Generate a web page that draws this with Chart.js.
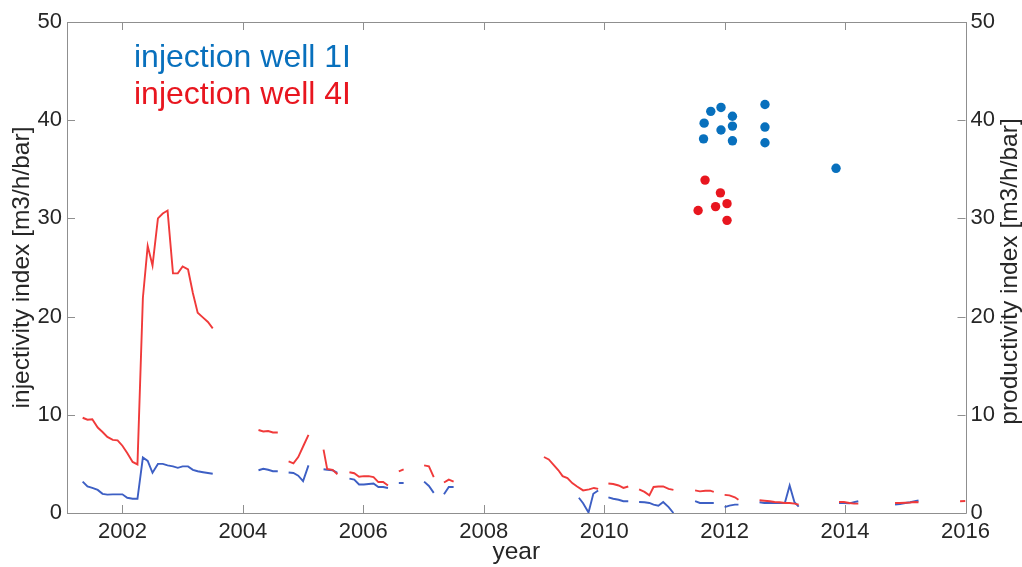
<!DOCTYPE html>
<html>
<head>
<meta charset="utf-8">
<title>Injectivity and productivity index</title>
<script src="https://cdn.jsdelivr.net/npm/chart.js@4/dist/chart.umd.min.js"></script>
<style>
  html, body { margin: 0; padding: 0; background: #ffffff; }
  #wrap { width: 1022px; height: 567px; position: relative; }
</style>
</head>
<body>
<div id="wrap"><canvas id="chart" width="1022" height="567"></canvas></div>
<script>
// ---- axis ticks ----
const xTickValues = [2002, 2004, 2006, 2008, 2010, 2012, 2014, 2016];
const yTickValues = [0, 10, 20, 30, 40, 50];

// ---- injection well 4I, injectivity index time series (null = no record) ----
const well4Years = [
  2001.34, 2001.42, 2001.50, 2001.59, 2001.67, 2001.75, 2001.84, 2001.92, 2002.00, 2002.08,
  2002.17, 2002.25, 2002.34, 2002.42, 2002.50, 2002.59, 2002.67, 2002.75, 2002.84, 2002.92,
  2003.00, 2003.09, 2003.17, 2003.25, 2003.34, 2003.42, 2003.50, null,
  2004.26, 2004.34, 2004.42, 2004.50, 2004.58, null,
  2004.76, 2004.84, 2004.92, 2005.01, 2005.09, null,
  2005.34, 2005.40, 2005.49, 2005.57, null,
  2005.77, 2005.85, 2005.93, 2006.01, 2006.09, 2006.17, 2006.25, 2006.33, 2006.41, null,
  2006.59, 2006.67, null,
  2007.01, 2007.09, 2007.17, null,
  2007.34, 2007.42, 2007.50, null,
  2009.00, 2009.08, 2009.16, 2009.24, 2009.31, 2009.39, 2009.47, 2009.55, 2009.65, 2009.75, 2009.83, 2009.90, null,
  2010.07, 2010.15, 2010.24, 2010.32, 2010.40, null,
  2010.58, 2010.67, 2010.75, 2010.82, 2010.90, 2010.98, 2011.07, 2011.15, null,
  2011.51, 2011.59, 2011.68, 2011.76, 2011.82, null,
  2012.00, 2012.08, 2012.17, 2012.23, null,
  2012.58, 2012.66, 2012.75, 2012.83, 2012.91, 2013.00, 2013.08, 2013.16, 2013.23, null,
  2013.90, 2013.98, 2014.07, 2014.15, 2014.22, null,
  2014.83, 2014.91, 2015.00, 2015.08, 2015.16, 2015.22, null,
  2015.91, 2016.00
];
const well4Injectivity = [
  9.7, 9.5, 9.55, 8.7, 8.25, 7.75, 7.45, 7.4, 6.85, 6.1,
  5.2, 4.95, 21.9, 27.2, 25.2, 30.0, 30.5, 30.8, 24.4, 24.4,
  25.1, 24.8, 22.4, 20.4, 19.9, 19.45, 18.8, null,
  8.45, 8.3, 8.35, 8.2, 8.2, null,
  5.25, 5.05, 5.7, 6.9, 7.95, null,
  6.45, 4.5, 4.4, 3.95, null,
  4.15, 4.05, 3.7, 3.75, 3.75, 3.65, 3.15, 3.15, 2.8, null,
  4.25, 4.45, null,
  4.85, 4.75, 3.65, null,
  3.1, 3.4, 3.2, null,
  5.7, 5.45, 4.9, 4.35, 3.75, 3.55, 3.05, 2.7, 2.3, 2.4, 2.55, 2.45, null,
  3.0, 2.95, 2.8, 2.55, 2.7, null,
  2.4, 2.15, 1.8, 2.65, 2.7, 2.7, 2.45, 2.35, null,
  2.3, 2.2, 2.27, 2.27, 2.15, null,
  1.85, 1.8, 1.6, 1.35, null,
  1.3, 1.25, 1.2, 1.12, 1.1, 1.02, 1.02, 0.95, 0.85, null,
  1.12, 1.12, 1.02, 0.95, 0.95, null,
  1.02, 1.02, 1.05, 1.07, 1.12, 1.1, null,
  1.2, 1.22
];

// ---- injection well 1I, injectivity index time series (null = no record) ----
const well1Years = [
  2001.34, 2001.42, 2001.50, 2001.59, 2001.67, 2001.75, 2001.84, 2001.92, 2002.00, 2002.08,
  2002.17, 2002.25, 2002.34, 2002.42, 2002.50, 2002.59, 2002.67, 2002.75, 2002.84, 2002.92,
  2003.00, 2003.09, 2003.17, 2003.25, 2003.34, 2003.42, 2003.50, null,
  2004.26, 2004.34, 2004.42, 2004.50, 2004.58, null,
  2004.76, 2004.84, 2004.92, 2005.00, 2005.09, null,
  2005.34, 2005.40, 2005.49, 2005.57, null,
  2005.77, 2005.85, 2005.93, 2006.01, 2006.09, 2006.17, 2006.25, 2006.33, 2006.41, null,
  2006.59, 2006.67, null,
  2007.01, 2007.09, 2007.17, null,
  2007.34, 2007.42, 2007.50, null,
  2009.58, 2009.65, 2009.74, 2009.82, 2009.90, null,
  2010.07, 2010.15, 2010.24, 2010.32, 2010.40, null,
  2010.58, 2010.67, 2010.75, 2010.82, 2010.90, 2010.98, 2011.07, 2011.15, null,
  2011.51, 2011.59, 2011.68, 2011.76, 2011.82, null,
  2012.00, 2012.08, 2012.17, 2012.23, null,
  2012.58, 2012.66, 2012.75, 2012.83, 2012.91, 2013.00, 2013.08, 2013.16, 2013.23, null,
  2013.90, 2013.98, 2014.07, 2014.15, 2014.22, null,
  2014.83, 2014.91, 2015.00, 2015.08, 2015.16, 2015.22
];
const well1Injectivity = [
  3.2, 2.7, 2.55, 2.35, 1.95, 1.87, 1.9, 1.9, 1.9, 1.55,
  1.45, 1.45, 5.65, 5.3, 4.1, 5.0, 5.0, 4.85, 4.75, 4.6,
  4.75, 4.75, 4.4, 4.25, 4.15, 4.07, 4.0, null,
  4.35, 4.5, 4.4, 4.25, 4.25, null,
  4.12, 4.07, 3.8, 3.25, 4.85, null,
  4.45, 4.4, 4.35, 4.1, null,
  3.5, 3.4, 2.9, 2.9, 2.95, 3.0, 2.65, 2.65, 2.55, null,
  3.05, 3.05, null,
  3.2, 2.75, 2.05, null,
  1.9, 2.65, 2.65, null,
  1.55, 1.0, 0.05, 1.95, 2.3, null,
  1.6, 1.45, 1.35, 1.2, 1.2, null,
  1.12, 1.1, 1.02, 0.85, 0.75, 1.12, 0.6, 0.0, null,
  1.2, 1.02, 1.02, 1.02, 1.02, null,
  0.6, 0.75, 0.85, 0.85, null,
  1.1, 1.02, 1.02, 1.02, 1.02, 1.02, 2.8, 1.1, 0.65, null,
  1.02, 1.02, 0.98, 1.1, 1.2, null,
  0.85, 0.92, 1.02, 1.1, 1.2, 1.27
];

// ---- productivity index measurements ----
const well1ProdYears = [2011.77, 2011.94, 2012.13, 2011.66, 2011.94, 2012.13, 2011.65, 2012.13, 2012.67, 2012.67, 2012.67, 2013.85];
const well1Productivity = [40.9, 41.3, 40.4, 39.7, 39.0, 39.4, 38.1, 37.9, 41.6, 39.3, 37.7, 35.1];
const well4ProdYears = [2011.675, 2011.93, 2011.85, 2012.04, 2011.56, 2012.04];
const well4Productivity = [33.9, 32.6, 31.2, 31.5, 30.8, 29.8];

// ---- labels ----
const legendLabels = ['injection well 1I', 'injection well 4I'];
const xTitle = 'year';
const yLeftTitle = 'injectivity index [m3/h/bar]';
const yRightTitle = 'productivity index [m3/h/bar]';

// ---- styling ----
const FONT = '"Liberation Sans", Arial, Helvetica, sans-serif';
const TEXT = '#262626';
const AXIS = '#8f8f8f';
const LINE_BLUE = '#3d5fc4';
const LINE_RED = '#f03a3a';
const DOT_BLUE = '#0870bd';
const DOT_RED = '#e8161f';

function pairs(xs, ys) {
  return xs.map((x, i) => ({ x: x, y: ys[i] }));
}

// box outline and inward ticks on all four sides
const boxPlugin = {
  id: 'box',
  beforeDatasetsDraw(chart) {
    const { ctx, chartArea: a, scales } = chart;
    const L = 8;
    ctx.save();
    ctx.strokeStyle = AXIS;
    ctx.lineWidth = 1;
    ctx.beginPath();
    ctx.rect(Math.round(a.left) + 0.5, Math.round(a.top) + 0.5,
             Math.round(a.right - a.left), Math.round(a.bottom - a.top));
    xTickValues.forEach(v => {
      const px = Math.round(scales.x.getPixelForValue(v)) + 0.5;
      ctx.moveTo(px, a.bottom); ctx.lineTo(px, a.bottom - L);
      ctx.moveTo(px, a.top); ctx.lineTo(px, a.top + L);
    });
    yTickValues.forEach(v => {
      const py = Math.round(scales.y.getPixelForValue(v)) + 0.5;
      ctx.moveTo(a.left, py); ctx.lineTo(a.left + L, py);
      const py2 = Math.round(scales.y2.getPixelForValue(v)) + 0.5;
      ctx.moveTo(a.right, py2); ctx.lineTo(a.right - L, py2);
    });
    ctx.stroke();
    ctx.restore();
  },
  afterDraw(chart) {
    const { ctx, chartArea: a } = chart;
    ctx.save();
    // in-plot legend text
    ctx.font = '32px ' + FONT;
    ctx.textAlign = 'left';
    ctx.textBaseline = 'alphabetic';
    ctx.fillStyle = DOT_BLUE;
    ctx.fillText(legendLabels[0], 134, 67);
    ctx.fillStyle = DOT_RED;
    ctx.fillText(legendLabels[1], 134, 103.5);
    // right axis title, reading bottom to top
    ctx.font = '24.5px ' + FONT;
    ctx.fillStyle = TEXT;
    ctx.textAlign = 'center';
    ctx.textBaseline = 'middle';
    ctx.translate(1010, (a.top + a.bottom) / 2 + 4);
    ctx.rotate(-Math.PI / 2);
    ctx.fillText(yRightTitle, 0, 0);
    ctx.restore();
  }
};

const tickFont = { family: FONT, size: 22 };
const titleFont = { family: FONT, size: 24.5 };

new Chart(document.getElementById('chart'), {
  type: 'line',
  data: {
    datasets: [
      {
        type: 'scatter', label: legendLabels[0] + ' productivity',
        data: pairs(well1ProdYears, well1Productivity), yAxisID: 'y2',
        backgroundColor: DOT_BLUE, borderColor: DOT_BLUE, borderWidth: 0,
        pointRadius: 4.7, pointHoverRadius: 4.7, showLine: false
      },
      {
        type: 'scatter', label: legendLabels[1] + ' productivity',
        data: pairs(well4ProdYears, well4Productivity), yAxisID: 'y2',
        backgroundColor: DOT_RED, borderColor: DOT_RED, borderWidth: 0,
        pointRadius: 4.7, pointHoverRadius: 4.7, showLine: false
      },
      {
        label: legendLabels[1] + ' injectivity',
        data: pairs(well4Years, well4Injectivity), yAxisID: 'y',
        borderColor: LINE_RED, borderWidth: 1.9, pointRadius: 0,
        tension: 0, spanGaps: false, fill: false
      },
      {
        label: legendLabels[0] + ' injectivity',
        data: pairs(well1Years, well1Injectivity), yAxisID: 'y',
        borderColor: LINE_BLUE, borderWidth: 1.9, pointRadius: 0,
        tension: 0, spanGaps: false, fill: false
      }
    ]
  },
  options: {
    responsive: false,
    animation: false,
    devicePixelRatio: 1,
    layout: { padding: { top: 22, left: 0, right: 0, bottom: 0 } },
    plugins: { legend: { display: false }, tooltip: { enabled: false } },
    scales: {
      x: {
        type: 'linear', position: 'bottom', min: 2001.08, max: 2016,
        afterFit(s) { s.height = 54; },
        afterBuildTicks(s) { s.ticks = xTickValues.map(v => ({ value: v })); },
        grid: { display: false, drawTicks: false },
        border: { display: false },
        ticks: { font: tickFont, color: TEXT, padding: 6, maxRotation: 0, autoSkip: false,
                 callback: v => String(v) },
        title: { display: true, text: xTitle, font: titleFont, color: TEXT,
                 padding: { top: 0, bottom: 0 } }
      },
      y: {
        type: 'linear', position: 'left', min: 0, max: 50,
        afterFit(s) { s.width = 67; },
        afterBuildTicks(s) { s.ticks = yTickValues.map(v => ({ value: v })); },
        grid: { display: false, drawTicks: false },
        border: { display: false },
        ticks: { font: tickFont, color: TEXT, padding: 5, callback: v => String(v) },
        title: { display: true, text: yLeftTitle, font: titleFont, color: TEXT,
                 padding: { top: 8, bottom: 0 } }
      },
      y2: {
        type: 'linear', position: 'right', min: 0, max: 50,
        afterFit(s) { s.width = 56.5; },
        afterBuildTicks(s) { s.ticks = yTickValues.map(v => ({ value: v })); },
        grid: { display: false, drawTicks: false, drawOnChartArea: false },
        border: { display: false },
        ticks: { font: tickFont, color: TEXT, padding: 5, callback: v => String(v) }
      }
    }
  },
  plugins: [boxPlugin]
});
</script>
</body>
</html>
